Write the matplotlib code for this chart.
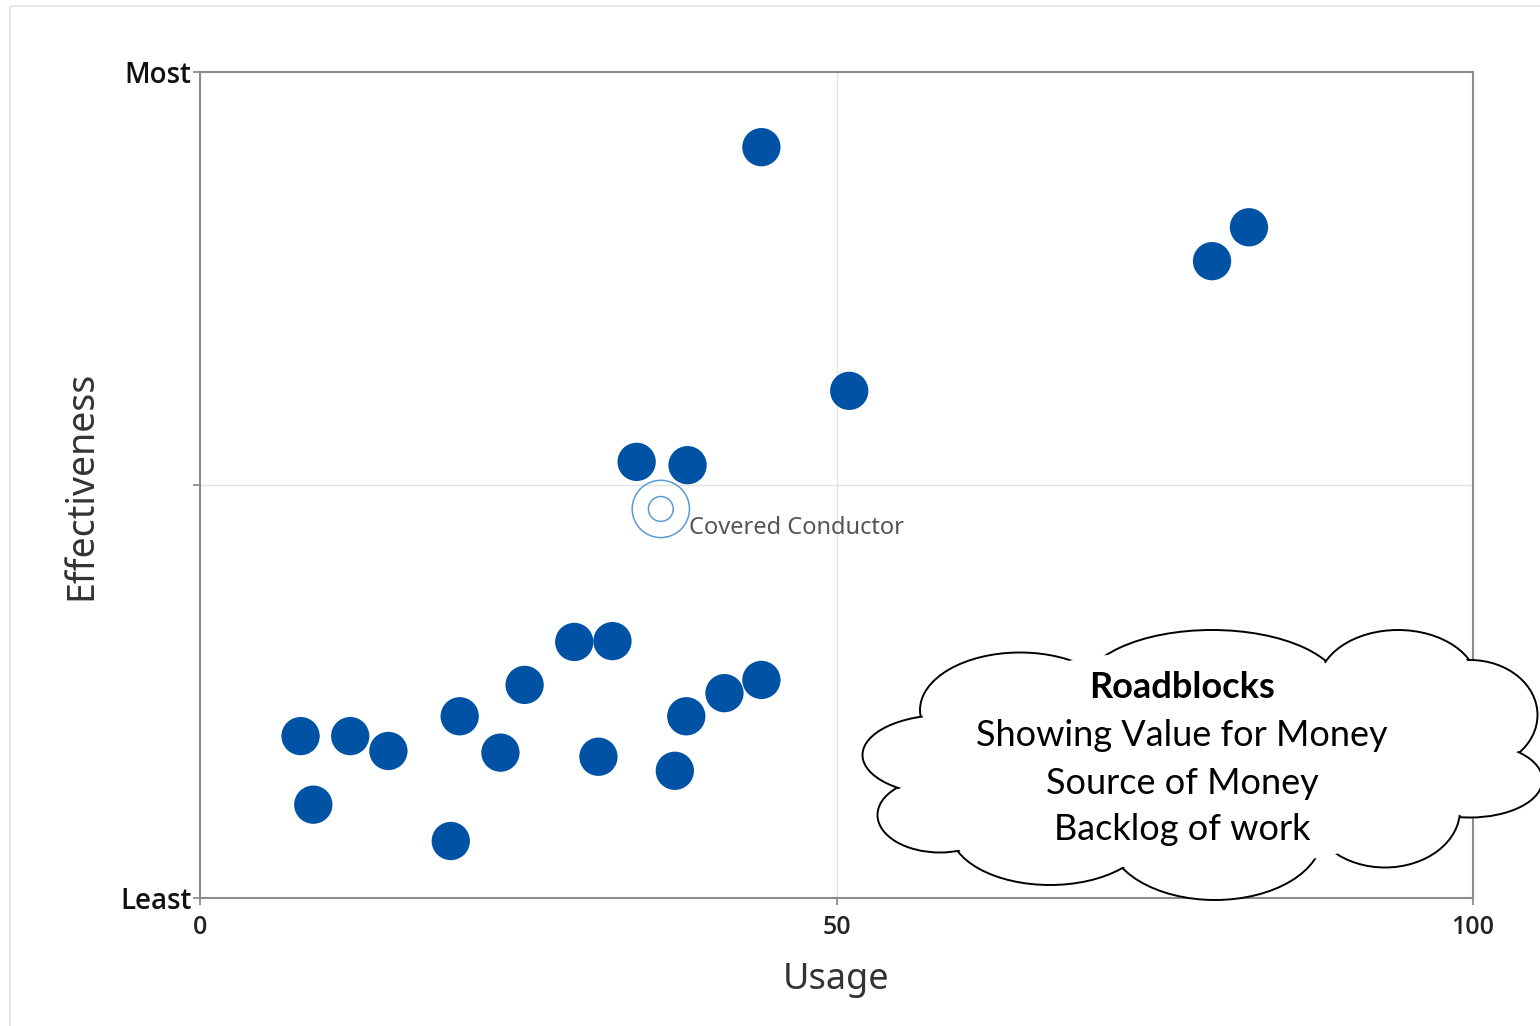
import matplotlib.pyplot as plt
from matplotlib.patches import Ellipse, Rectangle

# usage (0-100) vs effectiveness (0 = least, 100 = most)
usage = [44.1, 82.4, 79.5, 51.0, 34.3, 38.3, 29.4, 32.4, 25.5, 44.1, 41.2,
         38.2, 20.4, 7.9, 11.8, 14.8, 23.6, 31.3, 37.3, 8.9, 19.7]
effectiveness = [90.9, 81.2, 77.1, 61.4, 52.8, 52.4, 31.0, 31.1, 25.8, 26.4, 24.8,
                 22.0, 22.0, 19.6, 19.6, 17.8, 17.6, 17.1, 15.4, 11.3, 6.9]

highlight_name = 'Covered Conductor'
highlight_x = 36.2
highlight_y = 47.1

x_ticks = [0, 50, 100]
y_ticks = [0, 50, 100]
y_tick_labels = ['Least', '', 'Most']

roadblocks = ['Showing Value for Money', 'Source of Money', 'Backlog of work']

W, H = 1540, 1026
fig = plt.figure(figsize=(W / 100, H / 100), dpi=100)
plt.rcParams['font.family'] = ['Noto Sans', 'DejaVu Sans']

ax = fig.add_axes([200 / W, 1 - 898 / H, 1273 / W, 826 / H])
ax.set_xlim(0, 100)
ax.set_ylim(0, 100)

axis_grey = '#8c8c8c'
for sp in ax.spines.values():
    sp.set_color(axis_grey)
    sp.set_linewidth(1.5)

ax.axvline(50, color='#e3e3e3', lw=1, zorder=0)
ax.axhline(50, color='#e3e3e3', lw=1, zorder=0)

tick_font = ['Open Sans', 'DejaVu Sans']
ax.set_xticks(x_ticks)
ax.set_xticklabels([str(t) for t in x_ticks], fontsize=18, color='#222222',
                   fontweight='semibold', family=tick_font)
ax.set_yticks(y_ticks)
ax.set_yticklabels(y_tick_labels, fontsize=20, color='#111111',
                   fontweight='semibold', family=tick_font)
ax.tick_params(axis='both', direction='out', length=5, width=1.3, color=axis_grey)
ax.tick_params(axis='x', pad=7)
ax.tick_params(axis='y', pad=1)

ax.set_xlabel('Usage', fontsize=26, color='#333333', labelpad=16)
ax.set_ylabel('Effectiveness', fontsize=27, color='#333333', labelpad=14)

ax.scatter(usage, effectiveness, s=760, color='#0052a5', edgecolors='none', zorder=3)

# highlighted item: open double ring plus label
ax.scatter([highlight_x], [highlight_y], s=1700, facecolors='none',
           edgecolors='#5b9bd5', linewidths=1.1, zorder=3)
ax.scatter([highlight_x], [highlight_y], s=320, facecolors='none',
           edgecolors='#5b9bd5', linewidths=1.1, zorder=3)
ax.annotate(highlight_name, (highlight_x, highlight_y), xytext=(20, -14),
            textcoords='offset points', fontsize=17, color='#555555',
            va='center', ha='left', zorder=4)

# overlay in pixel space for the frame and the cloud callout
ov = fig.add_axes([0, 0, 1, 1], zorder=10)
ov.set_xlim(0, W)
ov.set_ylim(H, 0)
ov.axis('off')
ov.patch.set_alpha(0)

ov.add_patch(Rectangle((10, 6), W + 10, H - 3, fill=False, ec='#e6e6e6', lw=1.5))

lobes = [
    (1020, 710, 200, 115),
    (1212, 690, 260, 120),
    (1398, 685, 160, 110),
    (1470, 715, 135, 110),
    (1470, 780, 145, 75),
    (1385, 810, 150, 115),
    (1215, 835, 215, 130),
    (1050, 830, 200, 110),
    (940, 815, 125, 75),
    (945, 755, 165, 80),
]
for cx, cy, w, h in lobes:
    ov.add_patch(Ellipse((cx, cy), w, h, fc='white', ec='black', lw=1.4, zorder=1))
for cx, cy, w, h in lobes:
    ov.add_patch(Ellipse((cx, cy), w - 4, h - 4, fc='white', ec='none', zorder=2))
ov.add_patch(Ellipse((1190, 760), 560, 220, fc='white', ec='none', zorder=2))

cloud_font = ['Lato', 'DejaVu Sans']
ov.text(1182, 688, 'Roadblocks', ha='center', va='center', fontsize=26,
        fontweight='bold', family=cloud_font, zorder=3)
for i, line in enumerate(roadblocks):
    ov.text(1182, 736 + 47 * i, line, ha='center', va='center', fontsize=26,
            family=cloud_font, zorder=3)

fig.savefig('out.png', dpi=100)
